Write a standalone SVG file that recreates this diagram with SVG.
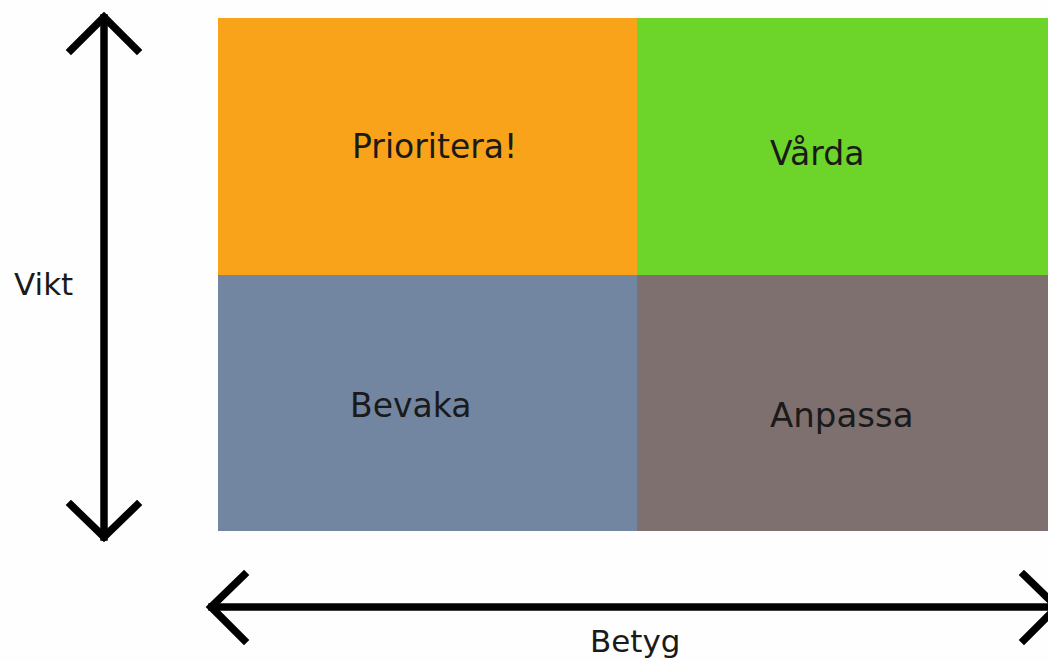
<svg xmlns="http://www.w3.org/2000/svg" width="1048" height="661" viewBox="0 0 1048 661">
<style>
text{font-family:"DejaVu Sans","Liberation Sans",sans-serif;font-size:33px;fill:#1a1a1a}
.lbl{font-size:31px}
.ax{fill:none;stroke:#000;stroke-width:7.5;stroke-linecap:square;stroke-linejoin:miter}
</style>
<rect width="1048" height="661" fill="#fefefe"/>
<g id="prioritera"><rect x="218" y="18" width="419" height="257" fill="#f8a31a"/><text x="352" y="158">Prioritera!</text></g>
<g id="varda"><rect x="637" y="18" width="411" height="257" fill="#6dd42a"/><text x="770" y="165">Vårda</text></g>
<g id="bevaka"><rect x="218" y="275" width="419" height="256" fill="#7286a2"/><text x="350" y="417">Bevaka</text></g>
<g id="anpassa"><rect x="637" y="275" width="411" height="256" fill="#7f7070"/><text x="770" y="427" style="font-size:34px">Anpassa</text></g>
<g id="vikt"><text class="lbl" x="14" y="295">Vikt</text></g>
<g id="betyg"><text class="lbl" x="590" y="652">Betyg</text></g>
<g id="connectors">
<path class="ax" d="M104 18 V537"/>
<path class="ax" d="M71 50 L104 17 L137 50"/>
<path class="ax" d="M71 505 L104 537 L137 505"/>
<path class="ax" d="M212 607 H1048"/>
<path class="ax" d="M244 575 L211 607 L244 640"/>
<path class="ax" d="M1024 575 L1057 607 L1024 640"/>
</g>
</svg>
